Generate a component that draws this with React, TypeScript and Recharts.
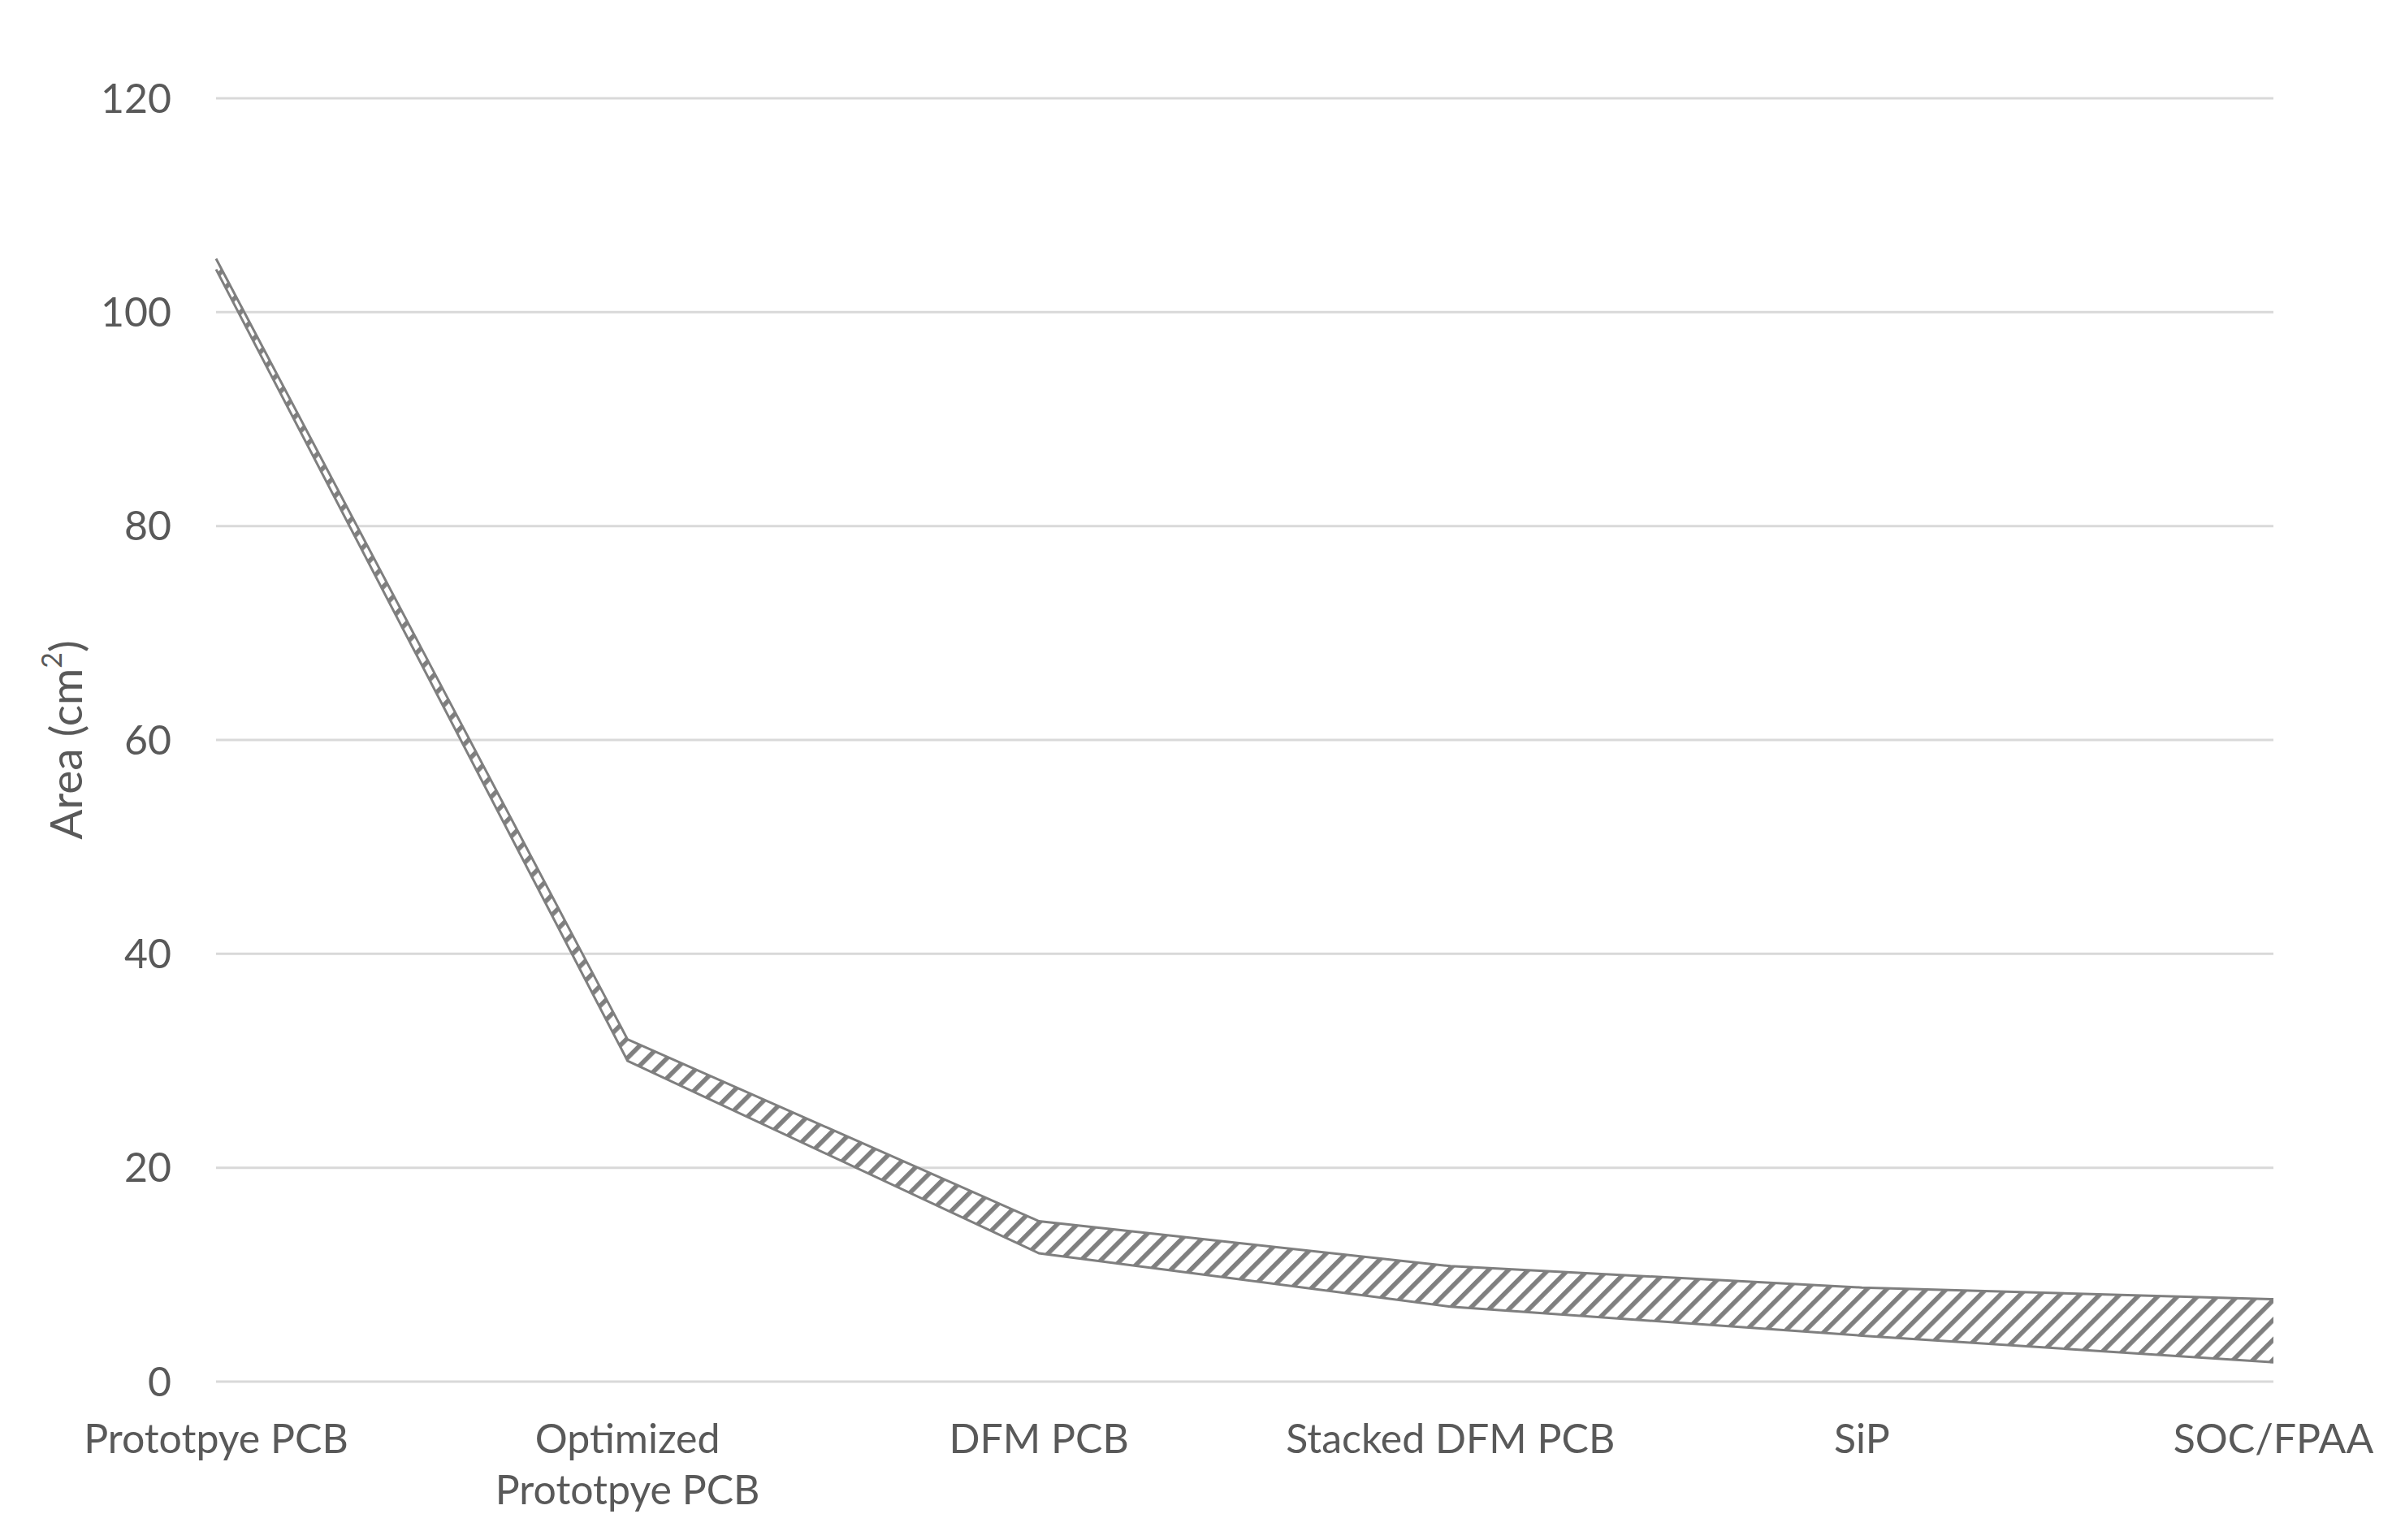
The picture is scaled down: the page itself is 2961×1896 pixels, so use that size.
import React from 'react';
import { AreaChart, Area, XAxis, YAxis, CartesianGrid } from 'recharts';

const categories = ['Prototpye PCB', 'Optimized Prototpye PCB', 'DFM PCB', 'Stacked DFM PCB', 'SiP', 'SOC/FPAA'];
const lowerValues = [104, 30, 12, 7, 4.3, 1.8];
const upperValues = [105, 32, 15, 10.8, 8.8, 7.7];
const yTicks = [0, 20, 40, 60, 80, 100, 120];
const tickLines: Record<string, string[]> = {
  'Optimized Prototpye PCB': ['Optimized', 'Prototpye PCB'],
};

const data = categories.map((c, i) => ({ category: c, range: [lowerValues[i], upperValues[i]] }));

const FONT = 'Lato, "Open Sans", sans-serif';
const TEXT = '#595959';

const XTick = (props: any) => {
  const { x, y, payload } = props;
  const lines = tickLines[payload.value] || [payload.value];
  return (
    <text x={x} y={y} textAnchor="middle" fill={TEXT} fontSize={50} fontFamily={FONT}>
      {lines.map((l: string, i: number) => (
        <tspan key={i} x={x} dy={i === 0 ? '0.71em' : 63}>{l}</tspan>
      ))}
    </text>
  );
};

const YLabel = (props: any) => {
  const { viewBox } = props;
  const cx = 72;
  const cy = viewBox.y + viewBox.height / 2;
  return (
    <text
      x={cx}
      y={cy}
      transform={`rotate(-90 ${cx} ${cy})`}
      textAnchor="middle"
      dominantBaseline="central"
      fill={TEXT}
      fontSize={55}
      fontFamily={FONT}
    >
      <tspan>Area (cm</tspan>
      <tspan fontSize={34} dy={-18}>2</tspan>
      <tspan dy={18}>)</tspan>
    </text>
  );
};

export default function App() {
  return (
    <div style={{ width: 2945, height: 1880, background: '#fff' }}>
      <AreaChart
        width={2945}
        height={1880}
        data={data}
        margin={{ top: 113, right: 154, bottom: 37, left: 0 }}
      >
        <defs>
          <pattern
            id="hatch"
            patternUnits="userSpaceOnUse"
            width={17.3}
            height={17.3}
            patternTransform="rotate(45)"
          >
            <rect x={0} y={0} width={17.3} height={17.3} fill="#ffffff" />
            <rect x={0} y={0} width={5.6} height={17.3} fill="#7f7f7f" />
          </pattern>
        </defs>
        <CartesianGrid horizontal vertical={false} stroke="#d9d9d9" strokeWidth={3} />
        <XAxis
          dataKey="category"
          axisLine={false}
          tickLine={false}
          tickSize={0}
          tickMargin={52}
          height={150}
          interval={0}
          tick={<XTick />}
        />
        <YAxis
          domain={[0, 120]}
          ticks={yTicks}
          axisLine={false}
          tickLine={false}
          tickSize={0}
          tickMargin={55}
          width={258}
          tick={{ fill: TEXT, fontSize: 50, fontFamily: FONT }}
          label={{ content: <YLabel /> }}
        />
        <Area
          type="linear"
          dataKey="range"
          stroke="#7f7f7f"
          strokeWidth={3}
          fill="url(#hatch)"
          fillOpacity={1}
          isAnimationActive={false}
          dot={false}
          activeDot={false}
        />
      </AreaChart>
    </div>
  );
}
